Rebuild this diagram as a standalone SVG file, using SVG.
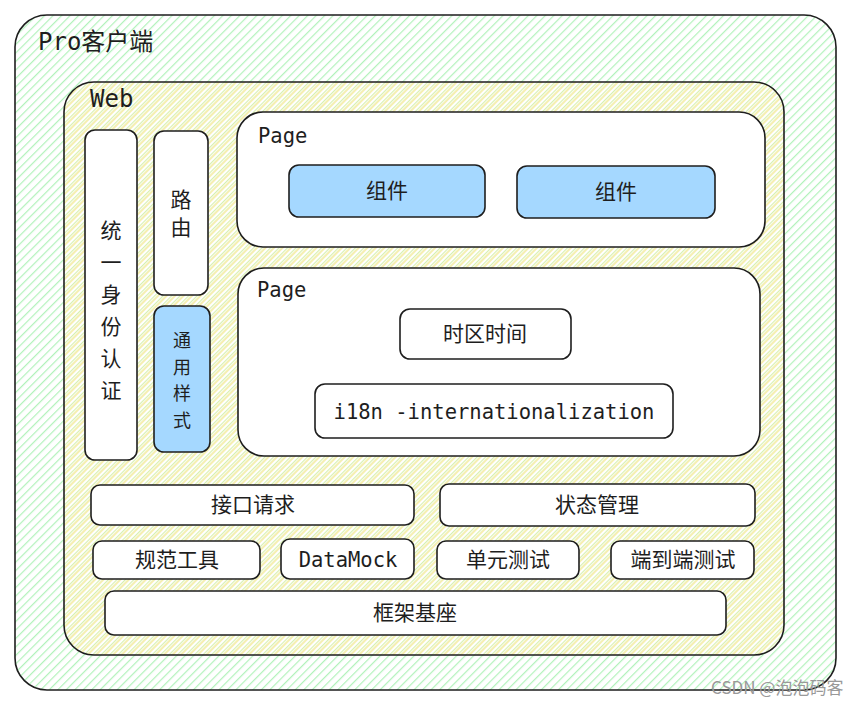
<svg xmlns="http://www.w3.org/2000/svg" width="863" height="706" viewBox="0 0 863 706">
<defs>
<pattern id="hg" patternUnits="userSpaceOnUse" width="6" height="6" patternTransform="rotate(-45)">
<rect width="6" height="6" fill="#ffffff"/>
<line x1="0" y1="0" x2="6" y2="0" stroke="#b2f2bb" stroke-width="2.4"/>
</pattern>
<pattern id="hy" patternUnits="userSpaceOnUse" width="6" height="6" patternTransform="rotate(-45)">
<rect width="6" height="6" fill="#ffffff"/>
<line x1="0" y1="0" x2="6" y2="0" stroke="#d8f0b0" stroke-width="2.4"/>
<line x1="0" y1="3" x2="6" y2="3" stroke="#f3ec9e" stroke-width="1.6"/>
</pattern>
<style>
.b{stroke:#1e1e1e;stroke-width:1.6;fill:#ffffff}
.bl{fill:#a5d8ff}
.m{font-family:"DejaVu Sans Mono","Liberation Mono",monospace;fill:#1e1e1e}
.c{font-family:"Noto Sans CJK SC",sans-serif;fill:#1e1e1e;font-size:21px;text-anchor:middle}
.v{font-size:18px}
</style>
</defs>
<g id="pro">
<rect x="15" y="15" width="821" height="675" rx="32" fill="url(#hg)" stroke="#1e1e1e" stroke-width="1.6"/>
<text class="m" x="38" y="50" font-size="24">Pro<tspan font-family="Noto Sans CJK SC,sans-serif">客户端</tspan></text>
</g>
<g id="web">
<rect x="64" y="82" width="720" height="573" rx="30" fill="url(#hy)" stroke="#1e1e1e" stroke-width="1.6"/>
<text class="m" x="90" y="107" font-size="24">Web</text>
</g>
<g id="auth">
<rect class="b" x="85" y="130" width="52" height="330" rx="10"/>
<text class="c" x="111" y="238">统<tspan x="111" dy="32">一</tspan><tspan x="111" dy="32">身</tspan><tspan x="111" dy="32">份</tspan><tspan x="111" dy="32">认</tspan><tspan x="111" dy="32">证</tspan></text>
</g>
<g id="route">
<rect class="b" x="154" y="131" width="54" height="164" rx="10"/>
<text class="c" x="181" y="207">路<tspan x="181" dy="28">由</tspan></text>
</g>
<g id="style">
<rect class="b bl" x="154" y="306" width="56" height="146" rx="10"/>
<text class="c v" x="182" y="347">通<tspan x="182" dy="26.5">用</tspan><tspan x="182" dy="26.5">样</tspan><tspan x="182" dy="26.5">式</tspan></text>
</g>
<g id="page1">
<rect class="b" x="237" y="112" width="528" height="135" rx="26"/>
<text class="m" x="258" y="143" font-size="20.5">Page</text>
</g>
<g id="comp1">
<rect class="b bl" x="289" y="165" width="196" height="52" rx="10"/>
<text class="c" x="387" y="198">组件</text>
</g>
<g id="comp2">
<rect class="b bl" x="517" y="166" width="198" height="52" rx="10"/>
<text class="c" x="616" y="199">组件</text>
</g>
<g id="page2">
<rect class="b" x="238" y="268" width="522" height="188" rx="26"/>
<text class="m" x="257" y="297" font-size="20.5">Page</text>
</g>
<g id="tz">
<rect class="b" x="400" y="309" width="171" height="50" rx="10"/>
<text class="c" x="485" y="341">时区时间</text>
</g>
<g id="i18n">
<rect class="b" x="315" y="384" width="358" height="54" rx="10"/>
<text class="m" x="494" y="419" font-size="20.5" text-anchor="middle">i18n -internationalization</text>
</g>
<g id="api">
<rect class="b" x="91" y="485" width="323" height="40" rx="9"/>
<text class="c" x="253" y="512">接口请求</text>
</g>
<g id="state">
<rect class="b" x="440" y="484" width="315" height="42" rx="9"/>
<text class="c" x="597" y="512">状态管理</text>
</g>
<g id="lint">
<rect class="b" x="93" y="541" width="167" height="38" rx="9"/>
<text class="c" x="177" y="567">规范工具</text>
</g>
<g id="mock">
<rect class="b" x="281" y="539" width="133" height="40" rx="9"/>
<text class="m" x="348" y="567" font-size="20.5" text-anchor="middle">DataMock</text>
</g>
<g id="unit">
<rect class="b" x="437" y="541" width="142" height="38" rx="9"/>
<text class="c" x="508" y="567">单元测试</text>
</g>
<g id="e2e">
<rect class="b" x="611" y="541" width="143" height="38" rx="9"/>
<text class="c" x="683" y="567">端到端测试</text>
</g>
<g id="base">
<rect class="b" x="105" y="591" width="621" height="44" rx="9"/>
<text class="c" x="415" y="620">框架基座</text>
</g>
<g id="connectors"></g>
<text x="711" y="694" font-family="Noto Sans CJK SC,sans-serif" font-size="17" fill="#999999">CSDN @泡泡码客</text>
</svg>
